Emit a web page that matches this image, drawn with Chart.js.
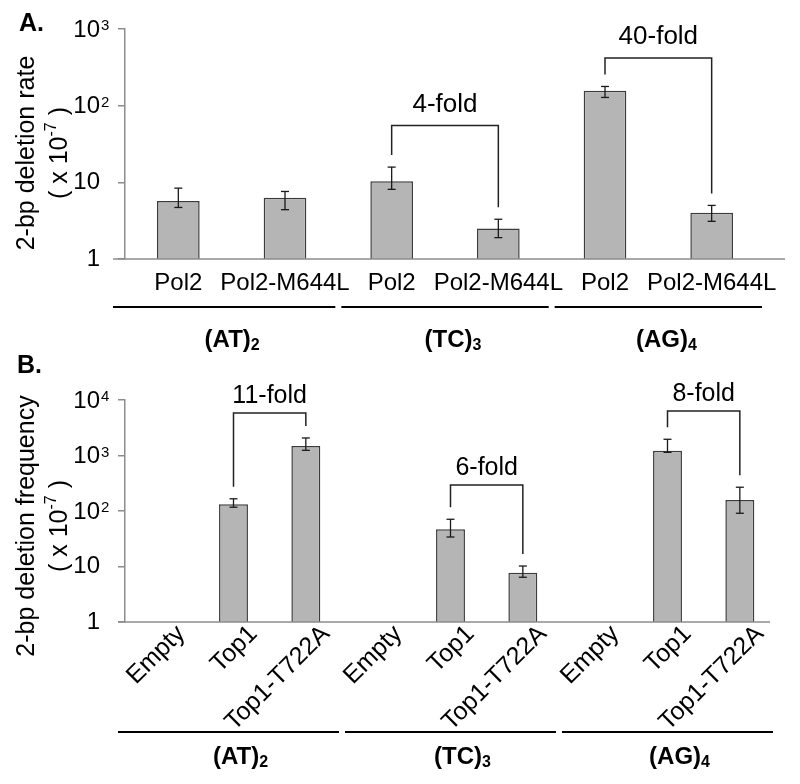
<!DOCTYPE html>
<html>
<head>
<meta charset="utf-8">
<script src="https://cdn.jsdelivr.net/npm/chart.js@4.4.0/dist/chart.umd.min.js"></script>
<style>
  body { margin: 0; background: #fff; }
  #wrap { position: relative; width: 800px; height: 784px; }
  canvas { position: absolute; left: 0; }
</style>
</head>
<body>
<div id="wrap">
  <canvas id="chartA" width="800" height="370" style="top:0px"></canvas>
  <canvas id="chartB" width="800" height="444" style="top:340px"></canvas>
</div>
<script>
// panel A: 2-bp deletion rate (x 10^-7)
const catsA = ['Pol2', 'Pol2-M644L', 'Pol2', 'Pol2-M644L', 'Pol2', 'Pol2-M644L'];
const valsA = [5.7, 6.3, 10.3, 2.5, 157, 4.0];
const errHiA = [8.4, 7.6, 15.8, 3.3, 178, 5.0];
const errLoA = [4.7, 4.4, 8.1, 1.9, 128, 3.1];
const ticksA = [1, 10, 100, 1000];
const foldFromA = [2, 4];
const foldToA = [3, 5];
const foldTopA = [55, 420];
const foldTextA = ['4-fold', '40-fold'];

// panel B: 2-bp deletion frequency (x 10^-7)
const catsB = ['Empty', 'Top1', 'Top1-T722A', 'Empty', 'Top1', 'Top1-T722A', 'Empty', 'Top1', 'Top1-T722A'];
const valsB = [null, 132, 1480, null, 47, 7.7, null, 1220, 158];
const errHiB = [null, 166, 2070, null, 71, 10.2, null, 1960, 268];
const errLoB = [null, 117, 1240, null, 34, 6.4, null, 1140, 91];
const ticksB = [1, 10, 100, 1000, 10000];
const foldFromB = [1, 4, 7];
const foldToB = [2, 5, 8];
const foldTopB = [5830, 294, 6340];
const foldTextB = ['11-fold', '6-fold', '8-fold'];

const groupNames = ['(AT)', '(TC)', '(AG)'];
const groupSubs = ['2', '3', '4'];

const FAM = '"Liberation Sans", Arial, sans-serif';
function f(size, bold) { return (bold ? 'bold ' : '') + size + 'px ' + FAM; }

// draw a run of text pieces (for super/subscripts)
function drawParts(ctx, parts, x, y, align) {
  let w = 0;
  parts.forEach(p => { ctx.font = p.font; p.w = ctx.measureText(p.t).width; w += p.w; });
  let cx = align === 'center' ? x - w / 2 : align === 'right' ? x - w : x;
  ctx.textAlign = 'left';
  parts.forEach(p => { ctx.font = p.font; ctx.fillText(p.t, cx, y + (p.dy || 0)); cx += p.w; });
}

function seg(ctx, x1, y1, x2, y2) {
  ctx.beginPath(); ctx.moveTo(x1, y1); ctx.lineTo(x2, y2); ctx.stroke();
}

const panelPlugin = {
  id: 'panel',
  afterDatasetsDraw(chart, args, o) {
    const ctx = chart.ctx, xs = chart.scales.x, ys = chart.scales.y, area = chart.chartArea;
    const meta = chart.getDatasetMeta(0);
    const band = (xs.getPixelForValue(1) - xs.getPixelForValue(0));
    ctx.save();
    ctx.textBaseline = 'middle';

    // x axis line
    ctx.strokeStyle = '#8c8c8c'; ctx.lineWidth = 1.5;
    seg(ctx, o.axisFrom, area.bottom, o.axisTo, area.bottom);

    // error bars
    ctx.strokeStyle = '#1a1a1a'; ctx.lineWidth = 1.3;
    o.hi.forEach((h, i) => {
      if (h == null) return;
      const x = meta.data[i].x, y1 = ys.getPixelForValue(h), y2 = ys.getPixelForValue(o.lo[i]);
      seg(ctx, x, y1, x, y2);
      seg(ctx, x - 4, y1, x + 4, y1);
      seg(ctx, x - 4, y2, x + 4, y2);
    });

    // fold brackets
    ctx.lineWidth = 1.5; ctx.strokeStyle = '#222'; ctx.fillStyle = '#000';
    o.fFrom.forEach((a, k) => {
      const b = o.fTo[k];
      const xa = meta.data[a].x, xb = meta.data[b].x;
      const yt = ys.getPixelForValue(o.fTop[k]);
      const ya = ys.getPixelForValue(o.hi[a]) - 12, yb = ys.getPixelForValue(o.hi[b]) - 12;
      ctx.beginPath();
      ctx.moveTo(xa, ya); ctx.lineTo(xa, yt); ctx.lineTo(xb, yt); ctx.lineTo(xb, yb);
      ctx.stroke();
      ctx.font = f(o.foldSize); ctx.textAlign = 'center';
      ctx.fillText(o.fText[k], (xa + xb) / 2, yt - o.foldGap);
    });

    // y tick labels with exponents
    o.ticks.forEach(v => {
      const y = ys.getPixelForValue(v);
      const e = Math.round(Math.log10(v));
      ctx.font = f(24); ctx.textAlign = 'right';
      if (e < 2) {
        ctx.fillText(String(v), 100, y);
      } else {
        ctx.fillText('10', 100, y + 1);
        ctx.font = f(15); ctx.textAlign = 'left';
        ctx.fillText(String(e), 101, y - 3);
      }
    });

    // category labels
    ctx.fillStyle = '#000';
    chart.data.labels.forEach((lab, i) => {
      const x = meta.data[i].x;
      if (o.rotate) {
        ctx.save();
        ctx.translate(x + o.labDx, area.bottom + o.labDy);
        ctx.rotate(-Math.PI / 4);
        ctx.font = f(25); ctx.textAlign = 'right';
        ctx.fillText(lab, 0, 0);
        ctx.restore();
      } else {
        ctx.font = f(24); ctx.textAlign = 'center';
        ctx.fillText(lab, x, area.bottom + o.labDy);
      }
    });

    // group lines and names
    ctx.strokeStyle = '#000'; ctx.lineWidth = 2;
    groupNames.forEach((g, k) => {
      const first = k * o.gSize, last = first + o.gSize - 1;
      let x1 = meta.data[first].x - band / 2 + 3;
      const x2 = meta.data[last].x + band / 2 - 3;
      if (k === 0) x1 = o.axisFrom;
      seg(ctx, x1, o.gLineY, x2, o.gLineY);
      drawParts(ctx, [
        { t: g, font: f(24, true) },
        { t: groupSubs[k], font: f(16, true), dy: 6 }
      ], (x1 + x2) / 2 + o.gDx, o.gTextY, 'center');
    });

    // axis title
    ctx.save();
    ctx.translate(27, o.titleY);
    ctx.rotate(-Math.PI / 2);
    ctx.font = f(25); ctx.textAlign = 'center';
    ctx.fillText(o.title, 0, 0);
    ctx.restore();
    ctx.save();
    ctx.translate(60, o.titleY);
    ctx.rotate(-Math.PI / 2);
    drawParts(ctx, [
      { t: '( x 10', font: f(25) },
      { t: '-7', font: f(16), dy: -8 },
      { t: ' )', font: f(25) }
    ], 0, 0, 'center');
    ctx.restore();

    // panel letter
    ctx.font = f(25, true); ctx.textAlign = 'left';
    ctx.fillText(o.letter, o.letterX, o.letterY);
    ctx.restore();
  }
};

function makeChart(id, cats, vals, tickVals, pad, plug) {
  return new Chart(document.getElementById(id), {
    type: 'bar',
    data: {
      labels: cats,
      datasets: [{
        data: vals,
        backgroundColor: '#b5b5b5',
        borderColor: '#3c3c3c',
        borderWidth: 1.5,
        barPercentage: 0.4,
        categoryPercentage: 1
      }]
    },
    options: {
      responsive: false,
      animation: false,
      events: [],
      layout: { padding: pad },
      plugins: { legend: { display: false }, tooltip: { enabled: false }, panel: plug },
      scales: {
        x: {
          ticks: { display: false },
          grid: { display: false },
          border: { display: false },
          afterFit(s) { s.height = 0; }
        },
        y: {
          type: 'logarithmic',
          min: tickVals[0],
          max: tickVals[tickVals.length - 1],
          ticks: { display: false },
          grid: { display: true, drawOnChartArea: false, drawTicks: true, tickLength: 7, color: '#8c8c8c', lineWidth: 1.5 },
          border: { display: true, color: '#8c8c8c', width: 1.5 },
          afterBuildTicks(s) { s.ticks = tickVals.map(v => ({ value: v })); },
          afterFit(s) { s.width = 125; }
        }
      }
    },
    plugins: [panelPlugin]
  });
}

makeChart('chartA', catsA, valsA, ticksA,
  { top: 29, bottom: 111, left: 0, right: 35 },
  {
    hi: errHiA, lo: errLoA, ticks: ticksA,
    fFrom: foldFromA, fTo: foldToA, fTop: foldTopA, fText: foldTextA, foldGap: 21, foldSize: 26,
    axisFrom: 113, axisTo: 785, rotate: false, labDy: 24,
    gSize: 2, gLineY: 307, gTextY: 340, gDx: 8,
    title: '2-bp deletion rate', titleY: 153,
    letter: 'A.', letterX: 19, letterY: 24
  });

makeChart('chartB', catsB, valsB, ticksB,
  { top: 60, bottom: 162, left: 0, right: 24 },
  {
    hi: errHiB, lo: errLoB, ticks: ticksB,
    fFrom: foldFromB, fTo: foldToB, fTop: foldTopB, fText: foldTextB, foldGap: 17, foldSize: 25,
    axisFrom: 118, axisTo: 770, rotate: true, labDx: 20, labDy: 8,
    gSize: 3, gLineY: 392, gTextY: 417, gDx: 12,
    title: '2-bp deletion frequency', titleY: 186,
    letter: 'B.', letterX: 17, letterY: 26
  });
</script>
</body>
</html>
